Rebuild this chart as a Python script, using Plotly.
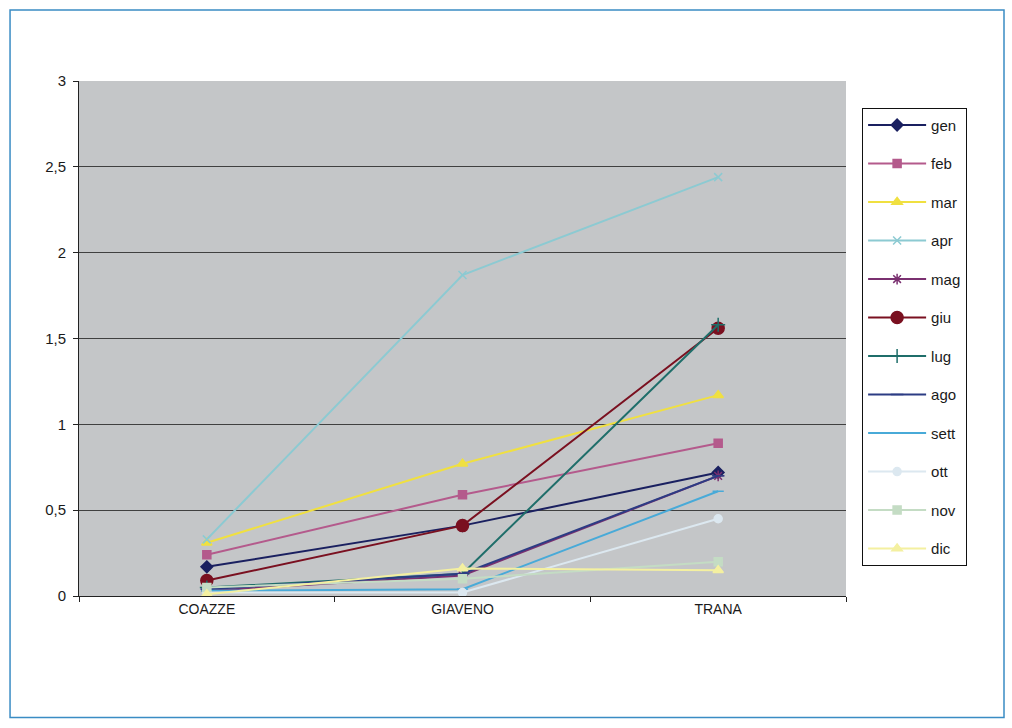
import plotly.graph_objects as go

# Località (asse delle categorie)
localita = ["COAZZE", "GIAVENO", "TRANA"]

# Valori mensili per località
gen = [0.17, 0.41, 0.72]
feb = [0.24, 0.59, 0.89]
mar = [0.31, 0.77, 1.17]
apr = [0.33, 1.87, 2.44]
mag = [0.03, 0.12, 0.70]
giu = [0.09, 0.41, 1.56]
lug = [0.05, 0.13, 1.58]
ago = [0.04, 0.13, 0.70]
sett = [0.03, 0.04, 0.61]
ott = [0.02, 0.02, 0.45]
nov = [0.05, 0.10, 0.20]
dic = [0.01, 0.16, 0.15]

mesi = ["gen", "feb", "mar", "apr", "mag", "giu", "lug", "ago", "sett", "ott", "nov", "dic"]
serie = [gen, feb, mar, apr, mag, giu, lug, ago, sett, ott, nov, dic]

colori = ["#1a2060", "#b45a8c", "#f0e040", "#8ccad2", "#7a3070", "#7a1020",
          "#1f6e6a", "#2c3c84", "#48aad8", "#dce8f0", "#c4dcc4", "#f4f0a0"]
simboli = ["diamond", "square", "triangle-up", "x-thin-open", "asterisk-open", "circle",
           "cross-thin-open", "line-ew-open", "line-ew-open", "circle", "square", "triangle-up"]
dim_simboli = [9, 8, 9, 8, 9, 12, 10, 9, 8, 8, 8, 9]

fig = go.Figure()
for nome, valori, col, sim, dim in zip(mesi, serie, colori, simboli, dim_simboli):
    fig.add_trace(go.Scatter(
        x=localita, y=valori, name=nome, mode="lines+markers",
        legendgroup=nome,
        line=dict(color=col, width=2),
        marker=dict(symbol=sim, size=dim, color=col, line=dict(color=col, width=1.5)),
    ))

fig.update_layout(
    width=1012, height=728,
    margin=dict(l=79, r=166, t=81, b=132),
    paper_bgcolor="white",
    plot_bgcolor="#c4c6c8",
    separators=",.",
    font=dict(family="Liberation Sans, Arial, sans-serif", size=15, color="#1a1a1a"),
    showlegend=True,
    legend=dict(
        x=1.021, y=0.948, xanchor="left", yanchor="top",
        bgcolor="white", bordercolor="#111111", borderwidth=1,
        tracegroupgap=16, font=dict(size=15, color="#1a1a1a"),
        itemwidth=58,
    ),
    xaxis=dict(
        type="category", range=[-0.5, 2.5],
        showline=True, linecolor="#222222", linewidth=1,
        ticks="outside", tickson="boundaries", ticklen=5, tickcolor="#222222",
        showgrid=False, tickfont=dict(size=14),
    ),
    yaxis=dict(
        range=[0, 3], dtick=0.5, tick0=0,
        showline=True, linecolor="#222222", linewidth=1,
        ticks="outside", ticklen=5, tickcolor="#222222",
        showgrid=True, gridcolor="#404040", gridwidth=1,
        zeroline=False, tickfont=dict(size=15), ticklabelstandoff=4,
    ),
    shapes=[
        dict(type="rect", xref="paper", yref="paper",
             x0=-0.0899, x1=1.2060, y0=-0.236, y1=1.1380,
             line=dict(color="#3a8cc4", width=1.5), fillcolor="rgba(0,0,0,0)", layer="below"),
    ],
)

fig.write_html("out.html")
